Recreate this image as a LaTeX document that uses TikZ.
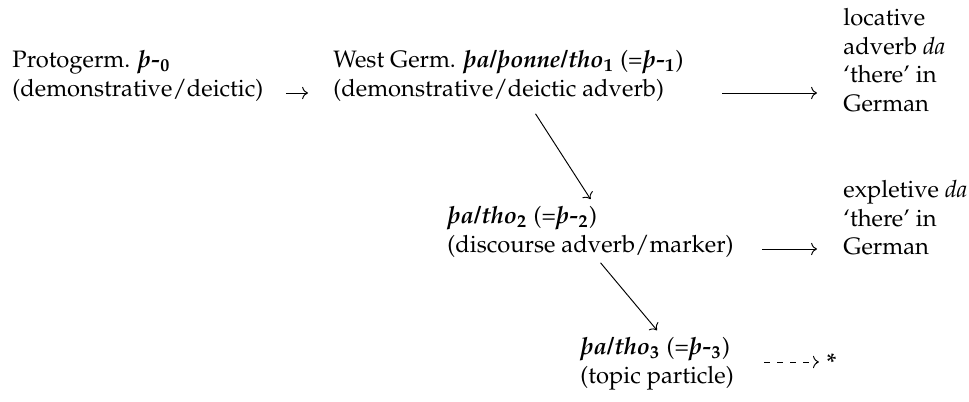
\documentclass[tikz,border=0pt]{standalone}
\usepackage[T1]{fontenc}
\usepackage{mathpazo}
\usetikzlibrary{arrows.meta, positioning, calc}

\newcommand{\bi}[1]{\textbf{\textit{#1}}}
\newcommand{\bsub}[1]{$_{\mathbf{#1}}$}

\begin{document}
\begin{tikzpicture}[
    x=0.0148cm, y=-0.0148cm,
    >=To,
    item/.style={
        align=left,
        inner sep=0pt,
        anchor=west,
        font=\fontsize{10}{12}\selectfont
    },
    arrow/.style={->},
    dasharrow/.style={->, dash pattern=on 2.5pt off 3pt, shorten >=3pt}
]
\useasboundingbox (0,0) rectangle (969,402);

\node[item] (proto) at (12,76) {Protogerm. \bi{\th-}\bsub{0}\\(demonstrative/deictic)};
\node[item] (west) at (333,76) {West Germ. \bi{\th a/\th onne/tho}\bsub{1} (=\bi{\th-}\bsub{1})\\(demonstrative/deictic adverb)};
\node[item] (loc) at (843,60) {locative\\adverb \textit{da}\\`there' in\\German};
\node[item] (tho2) at (447,232) {\bi{\th a/tho}\bsub{2} (=\bi{\th-}\bsub{2})\\(discourse adverb/marker)};
\node[item] (expl) at (843,218) {expletive \textit{da}\\`there' in\\German};
\node[item] (tho3) at (580,364) {\bi{\th a/tho}\bsub{3} (=\bi{\th-}\bsub{3})\\(topic particle)};
\node[item] (star) at (826,362) {\textbf{*}};

\draw[arrow] ($(proto.east)+(22,17)$) -- ($(west.west)+(-25,17)$);
\draw[arrow] ($(west.east)+(38,17)$) -- ($(west.east -| loc.west)+(-26,17)$);
\draw[arrow] ($(west.south)+(27,12)$) -- ($(tho2.north)+(0,-7)$);
\draw[arrow] ($(tho2.east)+(28,17)$) -- ($(tho2.east -| expl.west)+(-26,17)$);
\draw[arrow] ($(tho2.south)+(10,5)$) -- ($(tho3.north)+(0,-7)$);
\draw[dasharrow] ($(tho3.east)+(30,-2)$) -- (star.west);

\end{tikzpicture}
\end{document}
